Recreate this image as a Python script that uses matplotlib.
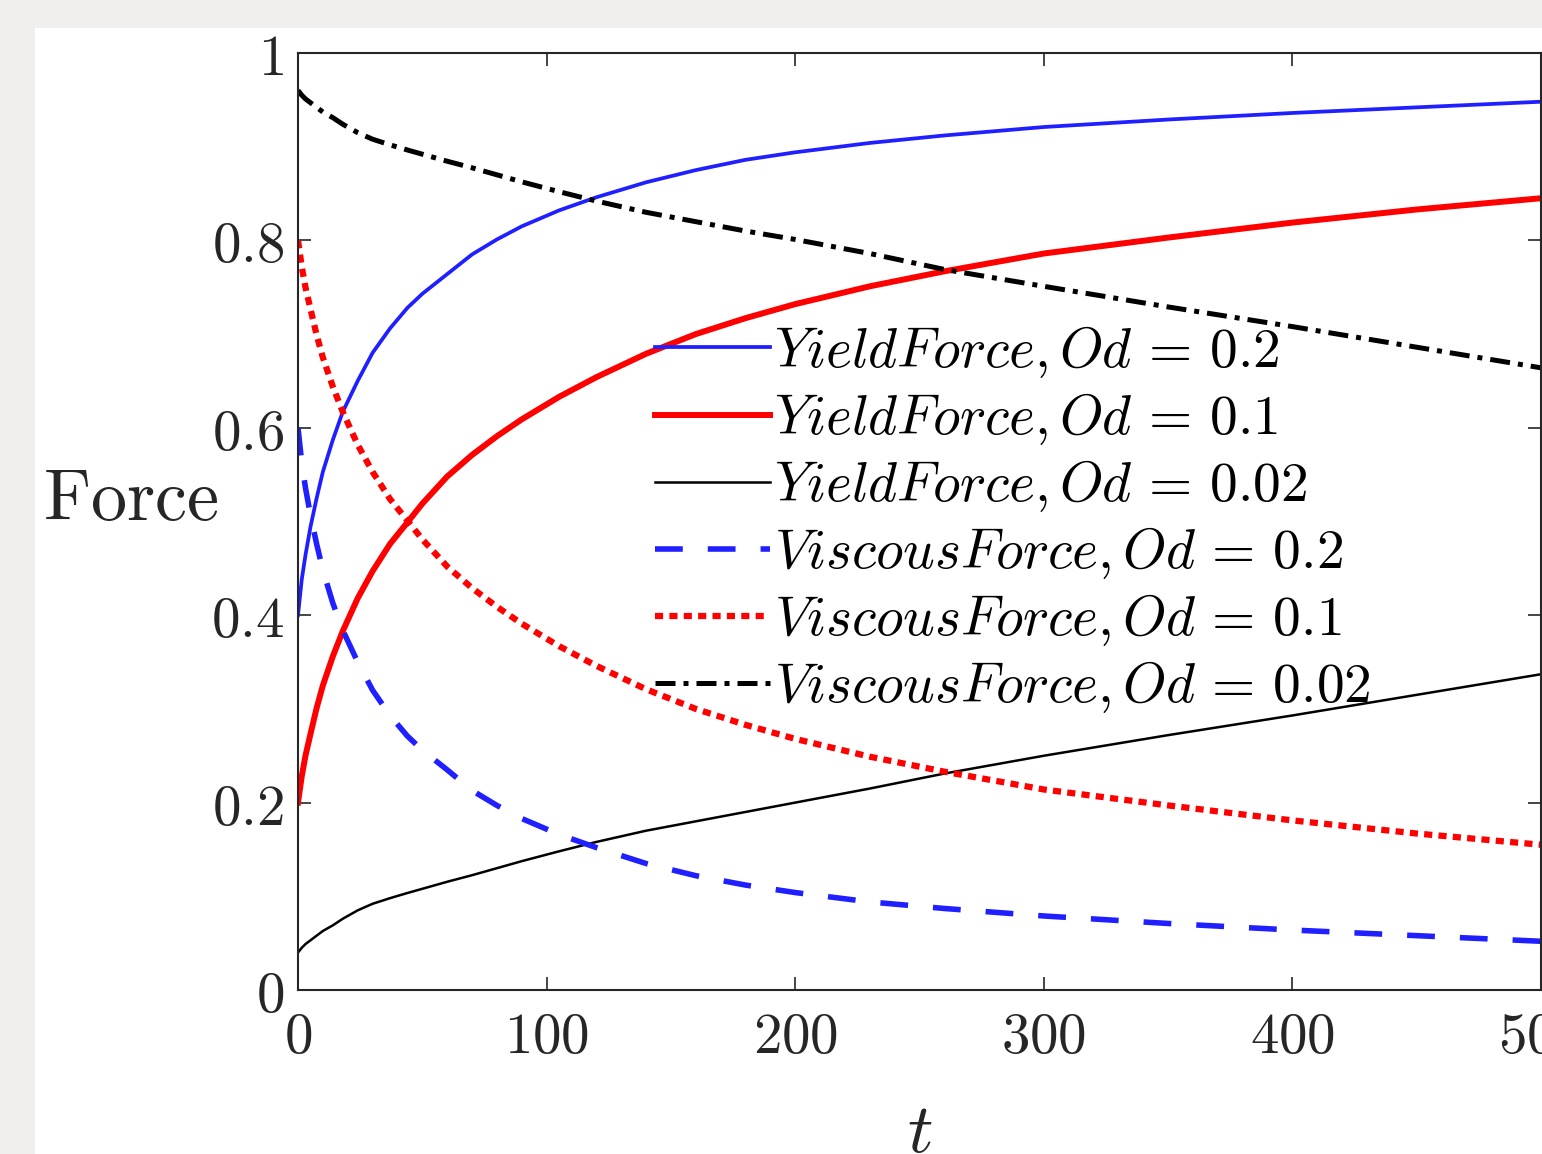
import numpy as np
import matplotlib
matplotlib.use("Agg")
import matplotlib.pyplot as plt
from matplotlib.patches import Rectangle
from matplotlib.ticker import FuncFormatter

plt.rcParams['mathtext.fontset'] = 'cm'
plt.rcParams['font.family'] = ['DejaVu Serif']

# values
t = [0, 1.5, 3, 5, 7.5, 10, 14, 18, 24, 30, 37, 44, 50, 60, 70, 80, 90, 105, 120,
     140, 160, 180, 200, 230, 260, 300, 350, 400, 450, 500]

yield_02 = [0.400, 0.438, 0.464, 0.494, 0.525, 0.553, 0.587, 0.617, 0.650, 0.680,
            0.706, 0.728, 0.743, 0.764, 0.785, 0.801, 0.815, 0.832, 0.846,
            0.862, 0.875, 0.886, 0.894, 0.904, 0.912, 0.921, 0.929, 0.936, 0.942, 0.948]
yield_01 = [0.200, 0.228, 0.250, 0.273, 0.301, 0.325, 0.356, 0.383, 0.418, 0.447,
            0.476, 0.499, 0.519, 0.548, 0.571, 0.591, 0.609, 0.633, 0.654,
            0.679, 0.700, 0.717, 0.732, 0.751, 0.767, 0.786, 0.803, 0.819, 0.833, 0.845]
yield_002 = [0.040, 0.045, 0.049, 0.053, 0.058, 0.063, 0.069, 0.076, 0.085, 0.092,
             0.098, 0.1035, 0.108, 0.1155, 0.1225, 0.130, 0.1375, 0.148, 0.158,
             0.170, 0.180, 0.190, 0.200, 0.215, 0.231, 0.250, 0.272, 0.293, 0.315, 0.337]
visc_02 = [0.600, 0.563, 0.536, 0.507, 0.476, 0.448, 0.413, 0.384, 0.350, 0.320,
           0.293, 0.271, 0.256, 0.235, 0.213, 0.197, 0.183, 0.166, 0.152,
           0.135, 0.122, 0.112, 0.104, 0.094, 0.087, 0.079, 0.071, 0.064, 0.058, 0.052]
visc_01 = [0.800, 0.772, 0.750, 0.727, 0.699, 0.675, 0.644, 0.617, 0.582, 0.553,
           0.524, 0.501, 0.481, 0.452, 0.429, 0.409, 0.391, 0.367, 0.346,
           0.321, 0.300, 0.283, 0.268, 0.249, 0.233, 0.214, 0.197, 0.181, 0.167, 0.155]
visc_002 = [0.960, 0.955, 0.951, 0.947, 0.942, 0.937, 0.931, 0.924, 0.915, 0.908,
            0.902, 0.8965, 0.892, 0.8845, 0.8775, 0.870, 0.8625, 0.852, 0.842,
            0.830, 0.820, 0.810, 0.801, 0.786, 0.769, 0.751, 0.729, 0.708, 0.686, 0.664]

labels = [r'$YieldForce,Od\,=\,0.2$', r'$YieldForce,Od\,=\,0.1$',
          r'$YieldForce,Od\,=\,0.02$', r'$ViscousForce,Od\,=\,0.2$',
          r'$ViscousForce,Od\,=\,0.1$', r'$ViscousForce,Od\,=\,0.02$']

fig = plt.figure(figsize=(15.42, 11.54), dpi=100, facecolor='#f1efed')
fig.patches.append(Rectangle((35 / 1542, 0), 1, 1 - 28 / 1154, transform=fig.transFigure,
                             facecolor='white', edgecolor='none', zorder=-10))
ax = fig.add_axes([298 / 1542, 1 - 990 / 1154, 1243 / 1542, 937 / 1154])
ax.set_zorder(5)
ax.patch.set_alpha(0)

blue = '#1f1fff'
ax.plot(t, yield_02, color=blue, lw=2.7, label=labels[0])
ax.plot(t, yield_01, color='#ff0000', lw=4.3, label=labels[1])
ax.plot(t, yield_002, color='black', lw=1.8, label=labels[2])
ax.plot(t, visc_02, color=blue, lw=4.0, ls=(0, (5, 4.5)), label=labels[3])
ax.plot(t, visc_01, color='#ff0000', lw=4.5, ls=(0, (1.3, 1.0)), label=labels[4])
ax.plot(t, visc_002, color='black', lw=3.6, ls=(0, (4, 1.6, 1, 1.6)), label=labels[5])

ax.set_xlim(0, 500)
ax.set_ylim(0, 1)
ax.set_xticks([0, 100, 200, 300, 400, 500])
ax.set_yticks([0, 0.2, 0.4, 0.6, 0.8, 1])
fmt = FuncFormatter(lambda v, p: r'$%g$' % v)
ax.xaxis.set_major_formatter(fmt)
ax.yaxis.set_major_formatter(fmt)
ax.tick_params(direction='in', top=True, right=True, length=9.5, width=1.2,
               colors='#262626', labelsize=41)
ax.tick_params(axis='x', pad=14)
ax.tick_params(axis='y', pad=10)
for sp in ax.spines.values():
    sp.set_color('#262626')
    sp.set_linewidth(1.5)

ax.set_xlabel(r'$t$', fontsize=51, color='#262626')
ax.xaxis.set_label_coords(0.5, -0.115)
ax.set_ylabel(r'$\mathrm{Force}$', fontsize=52, rotation=0, ha='right', va='center',
              color='#262626')
ax.yaxis.set_label_coords(-0.064, 0.523)

ax.legend(loc='center left', bbox_to_anchor=(0.2872, 0.502), frameon=False,
          fontsize=40, borderpad=0, borderaxespad=0, handlelength=2.07,
          handletextpad=0.08, labelspacing=0.2)

fig.savefig('out.png', dpi=100, facecolor=fig.get_facecolor())
